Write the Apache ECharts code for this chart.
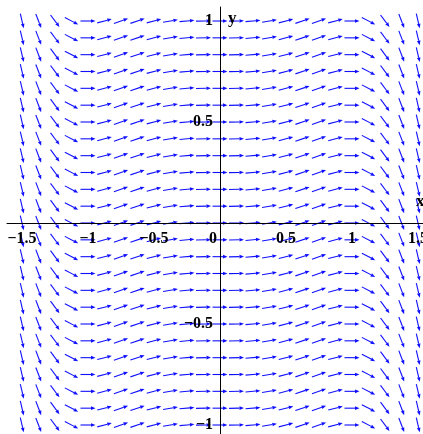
<!DOCTYPE html>
<html><head><meta charset="utf-8">
<script src="https://cdn.jsdelivr.net/npm/echarts@6/dist/echarts.min.js"></script>
<style>html,body{margin:0;padding:0;background:#fff}#c{width:423px;height:434px}</style>
</head><body><div id="c"></div>
<script>
// grid of arrow positions
const xValues = [-1.5,-1.375,-1.25,-1.125,-1,-0.875,-0.75,-0.625,-0.5,-0.375,-0.25,-0.125,0,
                 0.125,0.25,0.375,0.5,0.625,0.75,0.875,1,1.125,1.25,1.375,1.5];
const yValues = [-1,-0.9167,-0.8333,-0.75,-0.6667,-0.5833,-0.5,-0.4167,-0.3333,-0.25,-0.1667,-0.0833,0,
                 0.0833,0.1667,0.25,0.3333,0.4167,0.5,0.5833,0.6667,0.75,0.8333,0.9167,1];
// slope dy/dx read per column (field depends only on x)
const slopes = [-2.8,-1.7,-0.88,-0.34,0,0.17,0.23,0.22,0.17,0.11,0.055,0.015,0,
                0.015,0.055,0.11,0.17,0.22,0.23,0.17,0,-0.34,-0.88,-1.7,-2.8];
const xTickLabels = [-1.5,-1,-0.5,0,0.5,1,1.5];
const yTickLabels = [-1,-0.5,0.5,1];

const data = [];
xValues.forEach((x, i) => yValues.forEach(y => data.push([x, y, slopes[i]])));

const FONT = '"Liberation Serif", "DejaVu Serif", serif';
const FS = 16;
const fmt = v => (v < 0 ? '\u2212' + String(-v) : String(v));

const W = 423, H = 434;
const gLeft = 7, gTop = 7;
const xPx = 132, yPx = 202;           // pixels per unit
const x0px = 220, y0px = 223;          // pixel position of origin
const xMin = -(x0px - gLeft) / xPx, xMax = (W - x0px) / xPx;
const yMax = (y0px - gTop) / yPx, yMin = -(H - y0px) / yPx;

const chart = echarts.init(document.getElementById('c'), null, {renderer: 'canvas'});
chart.setOption({
  animation: false,
  backgroundColor: '#fff',
  grid: {left: gLeft, right: 0, top: gTop, bottom: 0, containLabel: false, outerBoundsMode: 'none'},
  xAxis: {
    type: 'value', min: xMin, max: xMax, z: 5,
    position: 'bottom', offset: -(H - y0px),
    axisLine: {onZero: false, lineStyle: {color: '#000', width: 1}},
    axisTick: {show: false},
    splitLine: {show: false},
    axisLabel: {
      customValues: xTickLabels, margin: 8, color: '#000',
      fontFamily: FONT, fontWeight: 'bold', fontSize: FS,
      formatter: v => v === 0 ? '{z|0}' : fmt(v),
      rich: {z: {padding: [0, 14, 0, 0], fontFamily: FONT, fontWeight: 'bold', fontSize: FS, color: '#000'}}
    }
  },
  yAxis: {
    type: 'value', min: yMin, max: yMax, z: 5,
    position: 'left', offset: -(x0px - gLeft),
    axisLine: {onZero: false, lineStyle: {color: '#000', width: 1}},
    axisTick: {show: false},
    splitLine: {show: false},
    axisLabel: {
      customValues: yTickLabels, margin: 7, color: '#000',
      fontFamily: FONT, fontWeight: 'bold', fontSize: FS,
      formatter: v => fmt(v)
    }
  },
  graphic: [
    {type: 'text', left: 416, top: 193, z: 10, style: {text: 'x', fontFamily: FONT, fontWeight: 'bold', fontSize: 17, fill: '#000'}},
    {type: 'text', left: 228, top: 10, z: 10, style: {text: 'y', fontFamily: FONT, fontWeight: 'bold', fontSize: 17, fill: '#000'}}
  ],
  series: [{
    type: 'custom', clip: false, z: 1,
    data: data,
    renderItem: function (params, api) {
      const x = api.value(0), y = api.value(1), s = api.value(2);
      const c = api.coord([x, y]);
      const unit = api.size([1, 1]);
      let vx = unit[0], vy = -s * unit[1];
      const n = Math.hypot(vx, vy); vx /= n; vy /= n;
      const L = 15, h = 4.5, w = 1.8;
      const x1 = c[0] - vx * L / 2, y1 = c[1] - vy * L / 2;
      const x2 = c[0] + vx * L / 2, y2 = c[1] + vy * L / 2;
      const bx = x2 - vx * h, by = y2 - vy * h;
      const px = -vy, py = vx;
      return {type: 'group', children: [
        {type: 'line', shape: {x1: x1, y1: y1, x2: bx, y2: by}, style: {stroke: '#1010ff', lineWidth: 1.1}},
        {type: 'polygon', shape: {points: [[x2, y2], [bx + px * w, by + py * w], [bx - px * w, by - py * w]]},
         style: {fill: '#1010ff'}}
      ]};
    }
  }]
});
</script>
</body></html>
